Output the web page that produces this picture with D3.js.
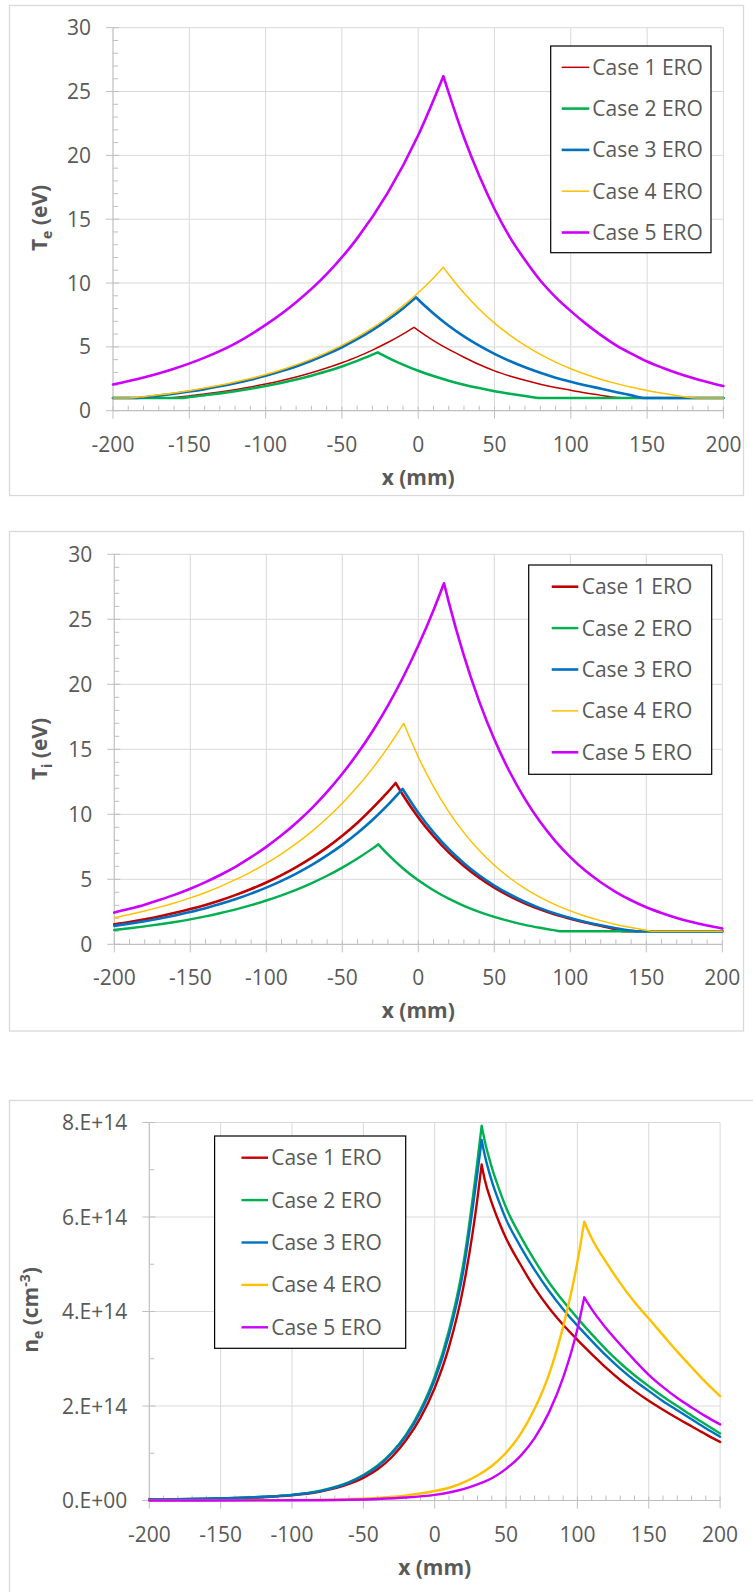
<!DOCTYPE html>
<html>
<head>
<meta charset="utf-8">
<script src="https://cdn.jsdelivr.net/npm/d3@7"></script>
<style>
  body { margin: 0; background: #ffffff; }
  svg text { font-family: "Open Sans", "Noto Sans", "DejaVu Sans", sans-serif; }
</style>
</head>
<body>
<svg id="chart" width="753" height="1592"></svg>
<script>
// ---- shared labels, colours and ticks ----
const SERIES_NAMES = ["Case 1 ERO", "Case 2 ERO", "Case 3 ERO", "Case 4 ERO", "Case 5 ERO"];
const SERIES_COLORS = ["#C00000", "#00B050", "#0070C0", "#FFC000", "#CC00FF"];
const X_TICKS = [-200, -150, -100, -50, 0, 50, 100, 150, 200];
const T_TICKS = [0, 5, 10, 15, 20, 25, 30];
const NE_TICKS = [0, 2e14, 4e14, 6e14, 8e14];
const NE_TICK_LABELS = ["0.E+00", "2.E+14", "4.E+14", "6.E+14", "8.E+14"];

// ---- electron temperature Te (eV) vs x (mm) ----
const teCase1 = [[-200,1.0],[-190,1.0],[-180,1.0],[-170,1.0],[-163,1.0],[-160,1.04],[-150,1.16],[-140,1.31],[-130,1.47],[-120,1.65],[-110,1.86],[-100,2.09],[-90,2.35],[-80,2.64],[-70,2.97],[-60,3.34],[-50,3.76],[-40,4.22],[-30,4.75],[-20,5.34],[-10,6.0],[-2.75,6.53],[0,6.29],[10,5.49],[20,4.8],[30,4.19],[40,3.62],[50,3.12],[60,2.72],[70,2.38],[80,2.08],[90,1.82],[100,1.6],[110,1.38],[120,1.2],[130,1.04],[135,1.0],[150,1.0],[175,1.0],[200,1.0]];
const teCase2 = [[-200,1.0],[-180,1.0],[-156,1.0],[-150,1.07],[-140,1.21],[-130,1.36],[-120,1.53],[-110,1.72],[-100,1.93],[-90,2.17],[-80,2.44],[-70,2.74],[-60,3.09],[-50,3.47],[-40,3.9],[-30,4.39],[-26.5,4.57],[-20,4.16],[-10,3.61],[0,3.13],[10,2.71],[20,2.35],[30,2.04],[40,1.77],[50,1.53],[60,1.33],[70,1.15],[80,1.0],[100,1.0],[150,1.0],[200,1.0]];
const teCase3 = [[-200,1.0],[-190,1.0],[-184,1.0],[-180,1.05],[-170,1.18],[-160,1.33],[-150,1.5],[-140,1.69],[-130,1.91],[-120,2.15],[-110,2.42],[-100,2.73],[-90,3.08],[-80,3.47],[-70,3.91],[-60,4.41],[-50,4.97],[-40,5.6],[-30,6.31],[-20,7.11],[-10,8.01],[-1.4,8.88],[0,8.71],[10,7.62],[20,6.66],[30,5.82],[40,5.09],[50,4.45],[60,3.89],[70,3.4],[80,2.97],[90,2.59],[100,2.27],[110,1.98],[120,1.72],[130,1.45],[140,1.2],[148,1.0],[160,1.0],[180,1.0],[200,1.0]];
const teCase4 = [[-200,1.0],[-190,1.0],[-180,1.1],[-170,1.24],[-160,1.39],[-150,1.57],[-140,1.77],[-130,1.99],[-120,2.24],[-110,2.52],[-100,2.83],[-90,3.19],[-80,3.59],[-70,4.04],[-60,4.55],[-50,5.12],[-40,5.76],[-30,6.48],[-20,7.3],[-10,8.21],[0,9.24],[10,10.4],[16.5,11.23],[20,10.67],[30,9.21],[40,7.95],[50,6.86],[60,5.92],[70,5.11],[80,4.41],[90,3.81],[100,3.29],[110,2.84],[120,2.45],[130,2.12],[140,1.83],[150,1.58],[160,1.36],[170,1.17],[180,1.02],[183,1.0],[190,1.0],[200,1.0]];
const teCase5 = [[-200,2.05],[-180,2.6],[-160,3.29],[-140,4.16],[-120,5.26],[-100,6.72],[-80,8.5],[-60,10.7],[-40,13.5],[-20,17.06],[0,21.58],[16.5,26.2],[20,24.9],[30,21.4],[40,18.4],[50,15.8],[60,13.6],[70,11.8],[80,10.2],[90,8.9],[100,7.8],[110,6.8],[120,5.9],[130,5.1],[140,4.45],[150,3.85],[160,3.37],[170,2.94],[180,2.56],[190,2.23],[200,1.93]];

// ---- ion temperature Ti (eV) vs x (mm) ----
const tiCase1 = [[-200,1.54],[-190,1.72],[-180,1.93],[-170,2.16],[-160,2.42],[-150,2.71],[-140,3.03],[-130,3.39],[-120,3.8],[-110,4.25],[-100,4.75],[-90,5.32],[-80,5.96],[-70,6.67],[-60,7.46],[-50,8.35],[-40,9.35],[-30,10.49],[-20,11.72],[-14.9,12.41],[-10,11.47],[0,9.76],[10,8.31],[20,7.07],[30,6.02],[40,5.12],[50,4.36],[60,3.71],[70,3.16],[80,2.69],[90,2.29],[100,1.97],[110,1.68],[120,1.42],[130,1.15],[136,1.0],[150,1.0],[175,1.0],[200,1.0]];
const tiCase2 = [[-200,1.1],[-190,1.23],[-180,1.38],[-170,1.54],[-160,1.72],[-150,1.92],[-140,2.15],[-130,2.41],[-120,2.69],[-110,3.01],[-100,3.37],[-90,3.77],[-80,4.21],[-70,4.71],[-60,5.27],[-50,5.9],[-40,6.6],[-30,7.38],[-26.3,7.69],[-20,6.91],[-10,5.83],[0,4.92],[10,4.16],[20,3.51],[30,2.96],[40,2.5],[50,2.11],[60,1.78],[70,1.5],[80,1.27],[90,1.07],[94,1.0],[120,1.0],[160,1.0],[200,1.0]];
const tiCase3 = [[-200,1.42],[-190,1.59],[-180,1.78],[-170,1.99],[-160,2.22],[-150,2.49],[-140,2.78],[-130,3.11],[-120,3.48],[-110,3.9],[-100,4.36],[-90,4.88],[-80,5.46],[-70,6.11],[-60,6.84],[-50,7.65],[-40,8.56],[-30,9.58],[-20,10.72],[-10.3,11.95],[0,10.12],[10,8.61],[20,7.33],[30,6.24],[40,5.31],[50,4.52],[60,3.85],[70,3.27],[80,2.78],[90,2.37],[100,2.02],[110,1.72],[120,1.46],[130,1.24],[140,1.06],[145,1.0],[160,1.0],[200,1.0]];
const tiCase4 = [[-200,2.05],[-190,2.29],[-180,2.56],[-170,2.86],[-160,3.2],[-150,3.57],[-140,3.99],[-130,4.46],[-120,4.99],[-110,5.57],[-100,6.23],[-90,6.96],[-80,7.78],[-70,8.69],[-60,9.71],[-50,10.85],[-40,12.13],[-30,13.55],[-20,15.15],[-9.6,17.0],[0,14.41],[10,12.13],[20,10.21],[30,8.59],[40,7.23],[50,6.08],[60,5.12],[70,4.31],[80,3.63],[90,3.05],[100,2.57],[110,2.16],[120,1.82],[130,1.53],[140,1.29],[150,1.08],[155,1.0],[170,1.0],[200,1.0]];
const tiCase5 = [[-200,2.44],[-190,2.73],[-180,3.05],[-170,3.42],[-160,3.82],[-150,4.27],[-140,4.78],[-130,5.35],[-120,5.98],[-110,6.7],[-100,7.49],[-90,8.38],[-80,9.37],[-70,10.48],[-60,11.73],[-50,13.12],[-40,14.67],[-30,16.41],[-20,18.36],[-10,20.54],[0,22.98],[10,25.7],[16.9,27.77],[20,26.34],[30,22.2],[40,18.71],[50,15.77],[60,13.29],[70,11.21],[80,9.44],[90,7.96],[100,6.71],[110,5.65],[120,4.77],[130,4.02],[140,3.39],[150,2.85],[160,2.41],[170,2.03],[180,1.71],[190,1.44],[200,1.21]];

// ---- electron density ne (cm^-3) vs x (mm) ----
const neCase1 = [[-200,0.02e14],[-160,0.035e14],[-120,0.07e14],[-100,0.11e14],[-80,0.19e14],[-60,0.35e14],[-50,0.48e14],[-40,0.66e14],[-30,0.92e14],[-20,1.28e14],[-10,1.75e14],[0,2.38e14],[10,3.25e14],[20,4.5e14],[30,6.4e14],[32.9,7.11e14],[35,6.8e14],[40,6.3e14],[45,5.9e14],[50,5.55e14],[60,5.0e14],[70,4.5e14],[80,4.08e14],[90,3.72e14],[100,3.4e14],[110,3.1e14],[120,2.81e14],[130,2.55e14],[140,2.32e14],[150,2.11e14],[160,1.92e14],[170,1.74e14],[180,1.57e14],[190,1.4e14],[200,1.24e14]];
const neCase2 = [[-200,0.02e14],[-160,0.04e14],[-120,0.08e14],[-100,0.12e14],[-80,0.21e14],[-60,0.39e14],[-50,0.54e14],[-40,0.74e14],[-30,1.02e14],[-20,1.4e14],[-10,1.92e14],[0,2.62e14],[10,3.6e14],[20,5.0e14],[30,7.2e14],[32.9,7.93e14],[35,7.62e14],[40,7.05e14],[45,6.6e14],[50,6.2e14],[60,5.6e14],[70,5.08e14],[80,4.62e14],[90,4.22e14],[100,3.86e14],[110,3.52e14],[120,3.2e14],[130,2.91e14],[140,2.65e14],[150,2.42e14],[160,2.2e14],[170,2.0e14],[180,1.8e14],[190,1.61e14],[200,1.42e14]];
const neCase3 = [[-200,0.02e14],[-160,0.04e14],[-120,0.08e14],[-100,0.12e14],[-80,0.2e14],[-60,0.38e14],[-50,0.53e14],[-40,0.72e14],[-30,1.0e14],[-20,1.37e14],[-10,1.87e14],[0,2.55e14],[10,3.5e14],[20,4.85e14],[30,6.95e14],[32.9,7.63e14],[35,7.32e14],[40,6.76e14],[45,6.33e14],[50,5.95e14],[60,5.38e14],[70,4.88e14],[80,4.44e14],[90,4.05e14],[100,3.7e14],[110,3.38e14],[120,3.07e14],[130,2.79e14],[140,2.54e14],[150,2.32e14],[160,2.1e14],[170,1.91e14],[180,1.72e14],[190,1.53e14],[200,1.35e14]];
const neCase4 = [[-200,0.0],[-150,0.003e14],[-100,0.008e14],[-80,0.016e14],[-60,0.03e14],[-40,0.056e14],[-20,0.107e14],[0,0.2e14],[10,0.27e14],[20,0.38e14],[30,0.53e14],[40,0.73e14],[50,1.01e14],[60,1.4e14],[70,1.94e14],[80,2.66e14],[90,3.68e14],[100,5.05e14],[104.8,5.9e14],[110,5.55e14],[120,5.05e14],[130,4.6e14],[140,4.2e14],[150,3.85e14],[160,3.5e14],[170,3.15e14],[180,2.82e14],[190,2.5e14],[200,2.21e14]];
const neCase5 = [[-200,0.0],[-100,0.004e14],[-60,0.016e14],[-40,0.032e14],[-20,0.062e14],[0,0.12e14],[10,0.17e14],[20,0.24e14],[30,0.34e14],[40,0.47e14],[50,0.67e14],[60,0.94e14],[70,1.32e14],[80,1.86e14],[90,2.6e14],[100,3.63e14],[104.8,4.3e14],[110,4.05e14],[120,3.65e14],[130,3.3e14],[140,2.97e14],[150,2.66e14],[160,2.4e14],[170,2.17e14],[180,1.97e14],[190,1.78e14],[200,1.61e14]];

const svg = d3.select("#chart");
const GRID = "#d9d9d9";
const AXIS = "#bfbfbf";
const TEXT = "#595959";

function drawPanel(p) {
  const g = svg.append("g");

  // chart area frame
  g.append("rect")
    .attr("x", p.frame[0]).attr("y", p.frame[1])
    .attr("width", p.frame[2]).attr("height", p.frame[3])
    .attr("fill", "#fff").attr("stroke", GRID).attr("stroke-width", 1.3);

  const x = d3.scaleLinear().domain([-200, 200]).range([p.left, p.right]);
  const y = d3.scaleLinear().domain(p.yDomain).range([p.bottom, p.top]);

  // gridlines
  g.append("g").selectAll("line").data(X_TICKS.slice(1)).join("line")
    .attr("x1", d => x(d)).attr("x2", d => x(d))
    .attr("y1", p.top).attr("y2", p.bottom)
    .attr("stroke", GRID).attr("stroke-width", 1);
  g.append("g").selectAll("line").data(p.yTicks.slice(1)).join("line")
    .attr("x1", p.left).attr("x2", p.right)
    .attr("y1", d => y(d)).attr("y2", d => y(d))
    .attr("stroke", GRID).attr("stroke-width", 1);

  // minor ticks (inside the plot)
  g.append("g").selectAll("line").data(d3.range(-190, 200, 10).filter(v => v % 50 !== 0)).join("line")
    .attr("x1", d => x(d)).attr("x2", d => x(d))
    .attr("y1", p.bottom).attr("y2", p.bottom - 5)
    .attr("stroke", AXIS);
  g.append("g").selectAll("line").data(p.yMinor).join("line")
    .attr("x1", p.left).attr("x2", p.left + 5)
    .attr("y1", d => y(d)).attr("y2", d => y(d))
    .attr("stroke", AXIS);

  // axis lines and major ticks
  g.append("line").attr("x1", p.left).attr("x2", p.right)
    .attr("y1", p.bottom).attr("y2", p.bottom).attr("stroke", AXIS).attr("stroke-width", 1.2);
  g.append("line").attr("x1", p.left).attr("x2", p.left)
    .attr("y1", p.top).attr("y2", p.bottom).attr("stroke", AXIS).attr("stroke-width", 1.2);
  g.append("g").selectAll("line").data(X_TICKS).join("line")
    .attr("x1", d => x(d)).attr("x2", d => x(d))
    .attr("y1", p.bottom - 4).attr("y2", p.bottom + 8)
    .attr("stroke", AXIS);
  g.append("g").selectAll("line").data(p.yTicks).join("line")
    .attr("x1", p.left - 7).attr("x2", p.left + 6)
    .attr("y1", d => y(d)).attr("y2", d => y(d))
    .attr("stroke", AXIS);

  // tick labels
  g.append("g").selectAll("text").data(X_TICKS).join("text")
    .attr("x", d => x(d)).attr("y", p.bottom + 41)
    .attr("text-anchor", "middle").attr("fill", TEXT)
    .style("font-size", "21px").text(d => d);
  g.append("g").selectAll("text").data(p.yTicks).join("text")
    .attr("x", p.left - 22).attr("y", d => y(d)).attr("dy", "0.36em")
    .attr("text-anchor", "end").attr("fill", TEXT)
    .style("font-size", "21px").text((d, i) => p.yLabels[i]);

  // axis titles
  g.append("text")
    .attr("x", (p.left + p.right) / 2).attr("y", p.bottom + 74)
    .attr("text-anchor", "middle").attr("fill", TEXT)
    .style("font-size", "21px").style("font-weight", "bold").text("x (mm)");
  const yt = g.append("text")
    .attr("transform", `translate(${p.yTitlePos[0]},${p.yTitlePos[1]}) rotate(-90)`)
    .attr("text-anchor", "middle").attr("fill", TEXT)
    .style("font-size", "21px").style("font-weight", "bold");
  p.yTitle(yt);

  // series lines, each drawn as rising and falling branches joined at the peak
  const line = d3.line().x(d => x(d[0])).y(d => y(d[1])).curve(d3.curveMonotoneX);
  p.series.forEach((s, i) => {
    const k = d3.maxIndex(s, d => d[1]);
    const path = line(s.slice(0, k + 1)) + line(s.slice(k)).replace(/^M/, "L");
    g.append("path").attr("d", path)
      .attr("fill", "none").attr("stroke", SERIES_COLORS[i])
      .attr("stroke-width", p.widths[i])
      .attr("stroke-linejoin", "round").attr("stroke-linecap", "round");
  });

  // legend
  const L = p.legend;
  const lg = g.append("g");
  lg.append("rect").attr("x", L.x).attr("y", L.y).attr("width", L.w).attr("height", L.h)
    .attr("fill", "#fff").attr("stroke", "#000").attr("stroke-width", 1.2);
  SERIES_NAMES.forEach((name, i) => {
    const cy = L.row0 + i * L.step;
    lg.append("line").attr("x1", L.lx0).attr("x2", L.lx1).attr("y1", cy).attr("y2", cy)
      .attr("stroke", SERIES_COLORS[i]).attr("stroke-width", p.widths[i]);
    lg.append("text").attr("x", L.tx).attr("y", cy).attr("dy", "0.36em")
      .attr("fill", TEXT).style("font-size", "21px").text(name);
  });
}

function subTitle(sym, sub, rest, sup, tail) {
  return t => {
    t.append("tspan").text(sym);
    t.append("tspan").attr("dy", 5).style("font-size", "14px").text(sub);
    t.append("tspan").attr("dy", -5).text(rest);
    if (sup) {
      t.append("tspan").attr("dy", -8).style("font-size", "14px").text(sup);
      t.append("tspan").attr("dy", 8).text(tail);
    }
  };
}

drawPanel({
  frame: [9.5, 5.5, 734, 490],
  left: 113, right: 723.4, top: 27.7, bottom: 410.7,
  yDomain: [0, 30], yTicks: T_TICKS, yLabels: T_TICKS.map(String),
  yMinor: d3.range(1, 30).filter(v => v % 5 !== 0),
  yTitlePos: [47, 218], yTitle: subTitle("T", "e", " (eV)"),
  series: [teCase1, teCase2, teCase3, teCase4, teCase5],
  widths: [1.5, 2.6, 2.6, 1.5, 2.6],
  legend: { x: 550.7, y: 46, w: 160.3, h: 206.7, lx0: 561.7, lx1: 589.3, tx: 592.3, row0: 67.3, step: 41.3 }
});

drawPanel({
  frame: [9.5, 531.5, 734, 499.5],
  left: 114.3, right: 722.3, top: 554.3, bottom: 944.3,
  yDomain: [0, 30], yTicks: T_TICKS, yLabels: T_TICKS.map(String),
  yMinor: d3.range(1, 30).filter(v => v % 5 !== 0),
  yTitlePos: [47, 749], yTitle: subTitle("T", "i", " (eV)"),
  series: [tiCase1, tiCase2, tiCase3, tiCase4, tiCase5],
  widths: [2.6, 2.4, 2.6, 1.5, 2.6],
  legend: { x: 528.7, y: 565, w: 183, h: 209.3, lx0: 551.7, lx1: 578.3, tx: 581.7, row0: 586.7, step: 41.4 }
});

drawPanel({
  frame: [9.5, 1100.5, 780, 560],
  left: 149.3, right: 720.1, top: 1122.5, bottom: 1500.5,
  yDomain: [0, 8e14], yTicks: NE_TICKS, yLabels: NE_TICK_LABELS,
  yMinor: [1e14, 3e14, 5e14, 7e14],
  yTitlePos: [38, 1310], yTitle: subTitle("n", "e", " (cm", "-3", ")"),
  series: [neCase1, neCase2, neCase3, neCase4, neCase5],
  widths: [2.4, 2.4, 2.4, 2.4, 2.4],
  legend: { x: 214.6, y: 1136, w: 191.1, h: 212.3, lx0: 241.5, lx1: 268, tx: 271.2, row0: 1157.7, step: 42.4 }
});
</script>
</body>
</html>
